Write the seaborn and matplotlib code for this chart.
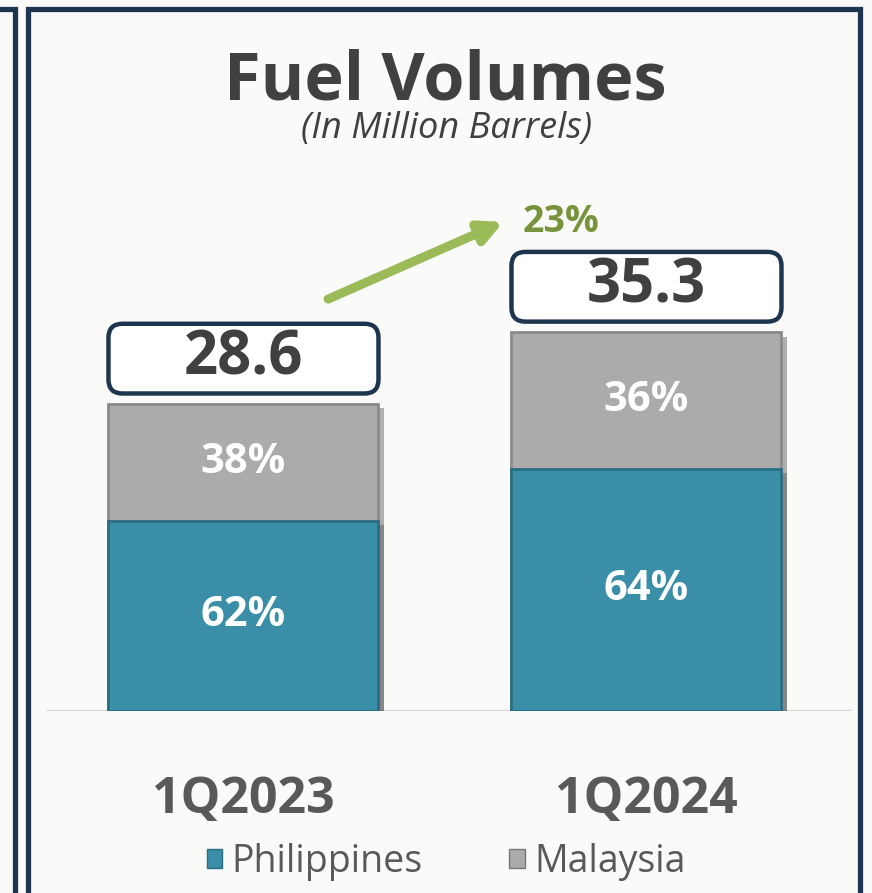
import matplotlib
matplotlib.use("Agg")
import matplotlib.pyplot as plt
import matplotlib.patheffects as pe
import pandas as pd
import seaborn as sns
from matplotlib.lines import Line2D
from matplotlib.patches import FancyBboxPatch, Patch


QUARTERS = ["1Q2023", "1Q2024"]
TOTAL_VOLUME = [28.6, 35.3]
PHILIPPINES_SHARE = [62, 64]
MALAYSIA_SHARE = [38, 36]

TEAL = "#3A8EA8"
GRAY = "#ABABAB"
NAVY = "#1E3550"
DARK_TEXT = "#404040"
LABEL_TEXT = "#595959"
GREEN = "#9BBB59"
GREEN_TEXT = "#77933C"
BG = "#FAFAF8"

W, H = 872, 893
BAR_WIDTH = 0.67

sns.set_theme(style="white")
plt.rcParams["font.family"] = ["Open Sans", "DejaVu Sans"]

df = pd.DataFrame({
    "quarter": QUARTERS,
    "total": TOTAL_VOLUME,
    "philippines": [t * s / 100 for t, s in zip(TOTAL_VOLUME, PHILIPPINES_SHARE)],
})

fig = plt.figure(figsize=(W / 100, H / 100), dpi=100, facecolor=BG)
# axes spans the baseline area; scale chosen so bars sit at 711px
ax = fig.add_axes([46 / W, 1 - 711 / H, (852 - 46) / W, (711 - 150) / H])
ax.set_facecolor("none")

shadow = [pe.SimplePatchShadow(offset=(4, -3), shadow_rgbFace="#555555", alpha=0.45), pe.Normal()]
sns.barplot(data=df, x="quarter", y="total", color=GRAY, saturation=1, width=BAR_WIDTH,
            edgecolor="#8A8A8A", linewidth=2, ax=ax)
sns.barplot(data=df, x="quarter", y="philippines", color=TEAL, saturation=1, width=BAR_WIDTH,
            edgecolor="#2A6E83", linewidth=2, ax=ax)
for patch in ax.patches:
    patch.set_path_effects(shadow)

ax.set_xlim(-0.49, 1.51)
ax.set_ylim(0, 52.3)
ax.axhline(0, color="#D9D9D9", lw=2.5, zorder=0)
sns.despine(ax=ax, left=True, bottom=True)
ax.set_yticks([])
ax.set_xlabel("")
ax.set_ylabel("")
ax.tick_params(axis="x", length=0, pad=46, labelsize=36, labelcolor=LABEL_TEXT)
for lbl in ax.get_xticklabels():
    lbl.set_fontweight("bold")

# segment percentages
for i, (tot, ph, ph_s, my_s) in enumerate(zip(df["total"], df["philippines"], PHILIPPINES_SHARE, MALAYSIA_SHARE)):
    ax.text(i, ph / 2, f"{ph_s}%", ha="center", va="center", color="white",
            fontsize=30, fontweight="bold")
    ax.text(i, ph + (tot - ph) / 2, f"{my_s}%", ha="center", va="center", color="white",
            fontsize=30, fontweight="bold")

# rounded total boxes
fig.canvas.draw()
px_x = ax.bbox.width / (ax.get_xlim()[1] - ax.get_xlim()[0])
px_y = ax.bbox.height / (ax.get_ylim()[1] - ax.get_ylim()[0])
for i, tot in enumerate(TOTAL_VOLUME):
    box = FancyBboxPatch((i - BAR_WIDTH / 2, tot + 1.0), BAR_WIDTH, 6.5,
                         boxstyle=f"round,pad=0,rounding_size={14 / px_x}",
                         mutation_aspect=px_x / px_y,
                         facecolor="white", edgecolor=NAVY, linewidth=3.2)
    ax.add_patch(box)
    ax.text(i, tot + 4.25, f"{tot:.1f}", ha="center", va="center",
            fontsize=43, fontweight="bold", color=DARK_TEXT)

# growth arrow
growth = TOTAL_VOLUME[1] / TOTAL_VOLUME[0] - 1
ax.annotate("", xy=(0.645, TOTAL_VOLUME[1] + 10.3), xytext=(0.21, TOTAL_VOLUME[0] + 9.8),
            arrowprops=dict(arrowstyle="-|>,head_length=1.1,head_width=0.55",
                            color=GREEN, lw=6.5, shrinkA=0, shrinkB=0))
ax.text(0.787, TOTAL_VOLUME[1] + 10.3, f"{growth:.0%}", ha="center", va="center",
        fontsize=27, fontweight="bold", color=GREEN_TEXT)

# titles
fig.text(445 / W, 1 - 82 / H, "Fuel Volumes", ha="center", va="center",
         fontsize=48, fontweight="bold", color=DARK_TEXT)
fig.text(447 / W, 1 - 129 / H, "(In Million Barrels)", ha="center", va="center",
         fontsize=26, style="italic", color=DARK_TEXT)

# legend
handles = [Patch(facecolor=TEAL, edgecolor="#2A6E83", label="Philippines"),
           Patch(facecolor=GRAY, edgecolor="#777777", label="Malaysia")]
fig.legend(handles=handles, loc="center", bbox_to_anchor=(446 / W, 1 - 862 / H), ncol=2,
           frameon=False, fontsize=27, labelcolor=LABEL_TEXT, handlelength=0.42,
           handleheight=0.42, handletextpad=0.25, columnspacing=2.3)

# panel frames
frame_kw = dict(color=NAVY, lw=3.8, solid_capstyle="projecting", solid_joinstyle="miter")
fig.add_artist(Line2D([28 / W, 28 / W, 860 / W, 860 / W], [-0.02, 1 - 9 / H, 1 - 9 / H, -0.02],
                      transform=fig.transFigure, **frame_kw))
fig.add_artist(Line2D([-0.01, 15 / W, 15 / W], [1 - 9 / H, 1 - 9 / H, -0.02],
                      transform=fig.transFigure, **frame_kw))

fig.savefig("out.png", dpi=100, facecolor=BG)
